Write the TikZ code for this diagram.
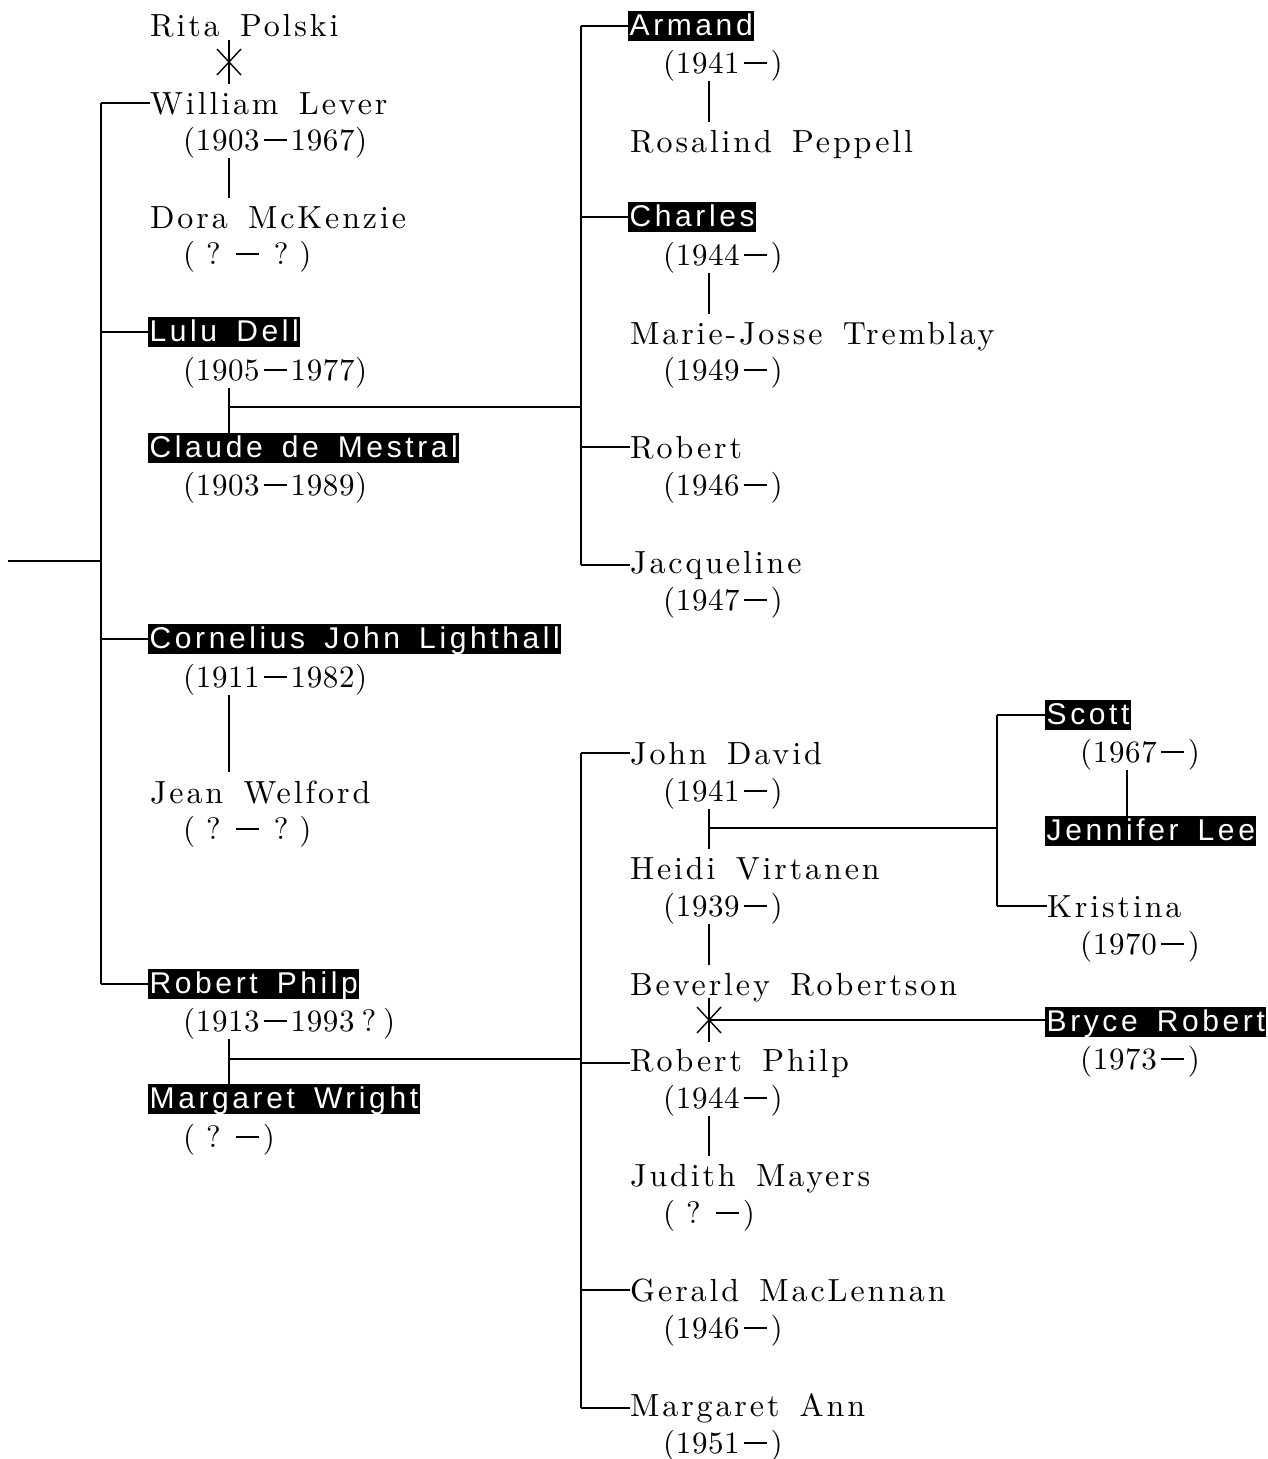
\documentclass[tikz,border=0pt]{standalone}
\usepackage{fontspec}
\setmainfont{lmroman10-regular.otf}[LetterSpace=9,WordSpace=1.5]
\newfontfamily\datefont{lmroman10-regular.otf}[LetterSpace=2]
\newfontfamily\hlfont{Liberation Sans}[LetterSpace=12,WordSpace=1.6]
\usetikzlibrary{calc}
\tikzset{
  nm/.style={anchor=base west, inner sep=0pt, font=\fontsize{32}{36}\selectfont},
  dt/.style={anchor=base west, inner sep=0pt, font=\datefont\fontsize{31}{36}\selectfont},
  hl/.style={anchor=base west, fill=black, text=white, inner xsep=1.5pt, inner ysep=2pt,
             text height=22pt, text depth=4pt, font=\hlfont\fontsize{30}{34}\selectfont},
  ln/.style={line width=1.9pt},
  sp/.style={ln, shorten >=8pt},
}
\newcommand\sepmark[1]{%
  \draw[ln] (#1) ++(0,-22) -- ++(0,44);
  \draw[line width=1.4pt] (#1) ++(-12,-13) -- ++(24,26);
  \draw[line width=1.4pt] (#1) ++(12,-13) -- ++(-24,26);}
\newcommand\dash{\kern4pt\rule[9.5pt]{23pt}{1.7pt}\kern4pt}
\newcommand\qs{\hspace{11pt}}
\begin{document}
\begin{tikzpicture}[x=1pt,y=-1pt]
\useasboundingbox (0,0) rectangle (1268,1459);
% left column
\node[nm] (rp)   at (150,36)   {Rita Polski};
\node[nm] (wl)   at (150,114)  {William Lever};
\node[dt] (wld)  at (183,150)  {(1903\dash1967)};
\node[nm] (dm)   at (150,228)  {Dora McKenzie};
\node[dt] (dmd)  at (183,264)  {(\qs?\qs\dash\qs?\qs)};
\node[hl] (ld)   at (148,341)  {Lulu Dell};
\node[dt] (ldd)  at (183,380)  {(1905\dash1977)};
\node[hl] (cm)   at (148,457)  {Claude de Mestral};
\node[dt] (cmd)  at (183,495)  {(1903\dash1989)};
\node[hl] (cj)   at (148,648)  {Cornelius John Lighthall};
\node[dt] (cjd)  at (183,687)  {(1911\dash1982)};
\node[nm] (jw)   at (150,803)  {Jean Welford};
\node[dt] (jwd)  at (183,839)  {(\qs?\qs\dash\qs?\qs)};
\node[hl] (rph)  at (148,993)  {Robert Philp};
\node[dt] (rphd) at (183,1031) {(1913\dash1993\kern7pt?\kern7pt)};
\node[hl] (mw)   at (148,1108) {Margaret Wright};
\node[dt] (mwd)  at (183,1147) {(\qs?\qs\dash)};
% middle upper
\node[hl] (ar)   at (628,35)   {Armand};
\node[dt] (ard)  at (663,73)   {(1941\dash)};
\node[nm] (rpe)  at (630,152)  {Rosalind Peppell};
\node[hl] (ch)   at (628,226)  {Charles};
\node[dt] (chd)  at (663,265)  {(1944\dash)};
\node[nm] (mj)   at (630,344)  {Marie-Josse Tremblay};
\node[dt] (mjd)  at (663,380)  {(1949\dash)};
\node[nm] (rb)   at (630,458)  {Robert};
\node[dt] (rbd)  at (663,495)  {(1946\dash)};
\node[nm] (jq)   at (630,573)  {Jacqueline};
\node[dt] (jqd)  at (663,610)  {(1947\dash)};
% middle lower
\node[nm] (jd)   at (630,764)  {John David};
\node[dt] (jdd)  at (663,801)  {(1941\dash)};
\node[nm] (hv)   at (630,879)  {Heidi Virtanen};
\node[dt] (hvd)  at (663,916)  {(1939\dash)};
\node[nm] (bv)   at (630,995)  {Beverley Robertson};
\node[nm] (rp2)  at (630,1071) {Robert Philp};
\node[dt] (rp2d) at (663,1108) {(1944\dash)};
\node[nm] (jm)   at (630,1186) {Judith Mayers};
\node[dt] (jmd)  at (663,1223) {(\qs?\qs\dash)};
\node[nm] (gm)   at (630,1301) {Gerald MacLennan};
\node[dt] (gmd)  at (663,1338) {(1946\dash)};
\node[nm] (ma)   at (630,1416) {Margaret Ann};
\node[dt] (mad)  at (663,1453) {(1951\dash)};
% right
\node[hl] (sc)   at (1045,724) {Scott};
\node[dt] (scd)  at (1080,762) {(1967\dash)};
\node[hl] (jl)   at (1045,840) {Jennifer Lee};
\node[nm] (kr)   at (1047,917) {Kristina};
\node[dt] (krd)  at (1080,954) {(1970\dash)};
\node[hl] (bry)  at (1045,1031) {Bryce Robert};
\node[dt] (bryd) at (1080,1069) {(1973\dash)};

% trunks and junctions
\coordinate (r0) at (8,561);
\coordinate (tL) at (101,561);
\coordinate (tM) at (581,0);
\coordinate (tR) at (997,0);
\coordinate (xL) at (229,0);
\coordinate (xM) at (709,0);
\coordinate (xR) at (1127,0);

\draw[ln] (r0) -- (tL);
\draw[ln] (tL |- wl.west) -- (tL |- rph.west);
\foreach \n in {wl,ld,cj,rph} \draw[ln] (tL |- \n.west) -- (\n.west);

% Rita Polski -- William Lever
\coordinate (s1) at (229,62);
\sepmark{s1}
% spouses left
\draw[sp] (xL |- wld.south) -- (xL |- dm.north);
\draw[ln] (xL |- ldd.south) -- (xL |- cm.north);
\draw[sp] (xL |- cjd.south) -- (xL |- jw.north);
\draw[ln] (xL |- rphd.south) -- (xL |- mw.north);

% Lulu & Claude children
\coordinate (c1) at (229,407);
\draw[ln] (c1) -- (c1 -| tM);
\draw[ln] (tM |- ar.west) -- (tM |- jq.west);
\foreach \n in {ar,ch,rb,jq} \draw[ln] (tM |- \n.west) -- (\n.west);
\draw[sp] (xM |- ard.south) -- (xM |- rpe.north);
\draw[sp] (xM |- chd.south) -- (xM |- mj.north);

% Robert Philp & Margaret children
\coordinate (c2) at (229,1059);
\draw[ln] (c2) -- (c2 -| tM);
\draw[ln] (tM |- jd.west) -- (tM |- ma.west);
\foreach \n in {jd,rp2,gm,ma} \draw[ln] (tM |- \n.west) -- (\n.west);
\draw[sp] (xM |- jdd.south) -- (xM |- hv.north);
\draw[sp] (xM |- hvd.south) -- (xM |- bv.north);
\draw[sp] (xM |- rp2d.south) -- (xM |- jm.north);

% John David & Heidi children
\coordinate (c3) at (709,828);
\draw[ln] (c3) -- (c3 -| tR);
\draw[ln] (tR |- sc.west) -- (tR |- kr.west);
\foreach \n in {sc,kr} \draw[ln] (tR |- \n.west) -- (\n.west);
\draw[ln] (xR |- scd.south) -- (xR |- jl.north);

% Beverley -- Robert Philp, child Bryce
\coordinate (s2) at (709,1020);
\sepmark{s2}
\draw[ln] (s2) -- (s2 -| bry.west);
\end{tikzpicture}
\end{document}
